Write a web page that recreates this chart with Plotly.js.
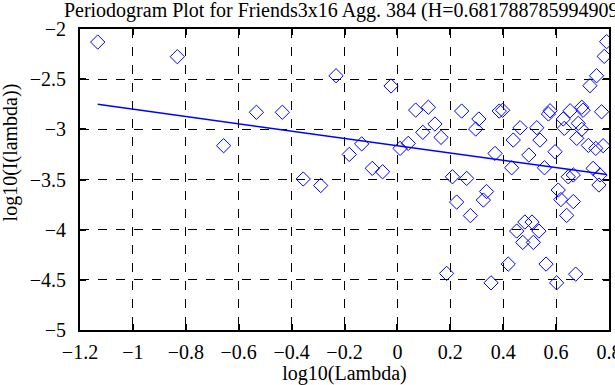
<!DOCTYPE html>
<html>
<head>
<meta charset="utf-8">
<script src="https://cdn.plot.ly/plotly-3.0.1.min.js"></script>
<style>html,body{margin:0;padding:0;background:#fff;}#chart{width:615px;height:385px;}</style>
</head>
<body>
<div id="chart"></div>
<script>
// log10(frequency) values of the periodogram points
const logLambda = [
  -1.133, -0.832, -0.657, -0.533, -0.435, -0.356, -0.290, -0.232, -0.182, -0.135,
  -0.095, -0.056, -0.024, 0.010, 0.041, 0.069, 0.096, 0.117, 0.142, 0.165,
  0.186, 0.208, 0.224, 0.243, 0.262, 0.276, 0.296, 0.308, 0.325, 0.337,
  0.354, 0.369, 0.385, 0.398, 0.419, 0.432, 0.438, 0.451, 0.464, 0.474,
  0.482, 0.497, 0.509, 0.514, 0.527, 0.535, 0.539, 0.556, 0.562, 0.571,
  0.577, 0.596, 0.602, 0.608, 0.618, 0.627, 0.631, 0.640, 0.646, 0.653,
  0.665, 0.665, 0.674, 0.678, 0.684, 0.697, 0.702, 0.697, 0.722, 0.728,
  0.740, 0.750, 0.753, 0.762, 0.766, 0.772, 0.778, 0.782, 0.791
];
// log10(periodogram) values
const logI = [
  -2.130, -2.276, -3.163, -2.830, -2.830, -3.495, -3.560, -2.466, -3.250, -3.145,
  -3.389, -3.423, -2.568, -3.190, -3.140, -2.808, -3.030, -2.780, -2.947, -3.080,
  -4.436, -3.473, -3.725, -2.818, -3.489, -3.860, -2.997, -2.897, -3.705, -3.620,
  -4.530, -3.240, -2.818, -2.810, -4.343, -3.383, -3.107, -4.014, -2.984, -4.127,
  -3.924, -3.256, -3.924, -4.127, -2.984, -4.014, -3.107, -3.383, -4.343, -2.847,
  -2.815, -3.223, -4.530, -3.605, -3.700, -2.897, -2.990, -3.858, -3.473, -2.815,
  -3.455, -3.720, -4.443, -3.090, -2.940, -2.780, -2.810, -3.000, -3.160, -2.565,
  -3.389, -3.190, -2.466, -3.555, -3.455, -2.825, -3.163, -2.273, -2.126
];
// least-squares fit (slope = 1 - 2H)
const H = 0.681788785994909;
const fitSlope = 1 - 2 * H;
const fitIntercept = -3.163;

const xTicks = [-1.2, -1, -0.8, -0.6, -0.4, -0.2, 0, 0.2, 0.4, 0.6, 0.8];
const xTickText = ["\u22121.2", "\u22121", "\u22120.8", "\u22120.6", "\u22120.4", "\u22120.2", "0", "0.2", "0.4", "0.6", "0.8"];
const yTicks = [-5, -4.5, -4, -3.5, -3, -2.5, -2];
const yTickText = ["\u22125", "\u22124.5", "\u22124", "\u22123.5", "\u22123", "\u22122.5", "\u22122"];

const xMin = Math.min(...logLambda), xMax = Math.max(...logLambda);
const fitX = [xMin, xMax];
const fitY = fitX.map(v => fitIntercept + fitSlope * v);

const serif = "Liberation Serif, Times New Roman, serif";
const blue = "#0000ff";

const traces = [
  {
    x: logLambda, y: logI, type: "scatter", mode: "markers",
    marker: {symbol: "diamond-open", size: 11, color: blue, line: {color: blue, width: 1}},
    hoverinfo: "skip", showlegend: false
  },
  {
    x: fitX, y: fitY, type: "scatter", mode: "lines",
    line: {color: blue, width: 1.5}, hoverinfo: "skip", showlegend: false
  }
];

const axisCommon = {
  showline: true, linecolor: "#000", linewidth: 2, mirror: "ticks",
  ticks: "inside", ticklen: 6, tickwidth: 2, tickcolor: "#000",
  showgrid: true, gridcolor: "#000", gridwidth: 1, griddash: "dash",
  zeroline: false, ticklabeloverflow: "allow",
  tickfont: {family: serif, size: 20, color: "#000"}
};

const layout = {
  width: 615, height: 385,
  margin: {l: 80, r: 6, t: 29, b: 55},
  paper_bgcolor: "#fff", plot_bgcolor: "#fff",
  font: {family: serif, color: "#000"},
  title: {text: "Periodogram Plot for Friends3x16 Agg. 384 (H=" + H + ")",
          font: {family: serif, size: 20, color: "#000"},
          xref: "paper", x: 0.5, xanchor: "center", yref: "container", y: 0.975, yanchor: "middle"},
  xaxis: Object.assign({}, axisCommon, {
    range: [-1.2, 0.8], tickmode: "array", tickvals: xTicks, ticktext: xTickText,
    ticklabelstandoff: 3,
    title: {text: "log10(Lambda)", font: {family: serif, size: 20, color: "#000"}, standoff: 2}
  }),
  yaxis: Object.assign({}, axisCommon, {
    range: [-5, -2], tickmode: "array", tickvals: yTicks, ticktext: yTickText,
    ticklabelstandoff: 8
  }),
  annotations: [{
    text: "log10(I(lambda))", textangle: -90, showarrow: false,
    xref: "paper", x: 0, xanchor: "center", xshift: -70,
    yref: "paper", y: 0.59, yanchor: "middle",
    font: {family: serif, size: 20, color: "#000"}
  }]
};

Plotly.newPlot("chart", traces, layout, {staticPlot: true, displayModeBar: false});
</script>
</body>
</html>
